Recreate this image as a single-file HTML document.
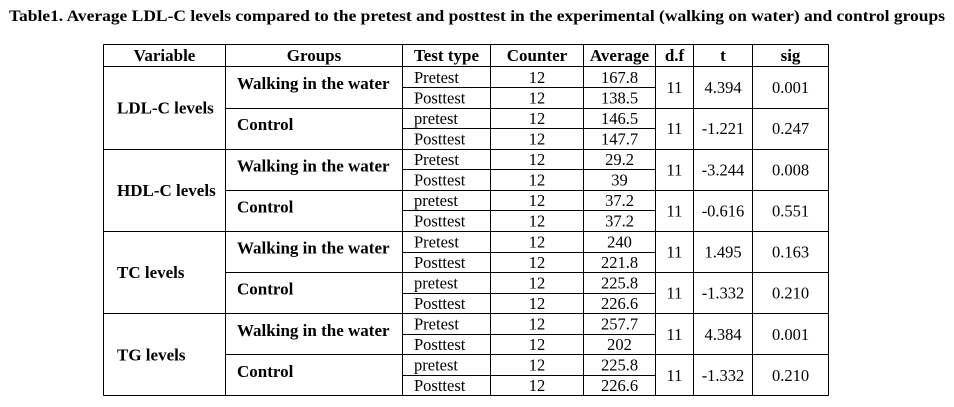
<!DOCTYPE html>
<html><head><style>html,body{margin:0;padding:0;background:#fff;width:954px;height:407px;overflow:hidden}</style></head>
<body>
<svg width="954" height="407" xmlns="http://www.w3.org/2000/svg" font-family="Liberation Serif, serif" fill="#000">
<text x="9" y="21" font-size="16" font-weight="bold" textLength="936" lengthAdjust="spacingAndGlyphs">Table1. Average LDL-C levels compared to the pretest and posttest in the experimental (walking on water) and control groups</text>
<g stroke="#000" stroke-width="1" id="lines"></g>
<g id="txt"></g>
</svg>
<script>
(function(){
const ns="http://www.w3.org/2000/svg";
const L=document.getElementById('lines'),T=document.getElementById('txt');
function ln(x1,y1,x2,y2){const e=document.createElementNS(ns,'line');e.setAttribute('x1',x1);e.setAttribute('y1',y1);e.setAttribute('x2',x2);e.setAttribute('y2',y2);L.appendChild(e);}
function tx(x,y,s,o){const e=document.createElementNS(ns,'text');e.setAttribute('x',x);e.setAttribute('y',y);e.setAttribute('font-size',o.fs||16.5);if(o.b)e.setAttribute('font-weight','bold');if(o.c)e.setAttribute('text-anchor','middle');e.textContent=s;T.appendChild(e);}
const X=[103.5,225.5,402.5,490.5,583.5,655.5,693.5,752.5,828.5];
const yTop=44.5,h0=66.5,rh=20.56,bot=395.5;
const R=i=>Math.round(h0+i*rh)+0.5;
X.forEach(x=>ln(x,yTop,x,bot));
ln(X[0],yTop,X[8],yTop);ln(X[0],h0,X[8],h0);
for(let i=1;i<=16;i++){const y=i==16?bot:R(i);
 if(i%4==0)ln(X[0],y,X[8],y);else if(i%2==0)ln(X[1],y,X[8],y);else ln(X[2],y,X[5],y);}
const hd=["Variable","Groups","Test type","Counter","Average","d.f","t","sig"];
hd.forEach((s,k)=>tx((X[k]+X[k+1])/2,61,s,{b:1,fs:17,c:1}));
const vars=["LDL-C levels","HDL-C levels","TC levels","TG levels"];
const data=[
[["167.8","138.5","4.394","0.001"],["146.5","147.7","-1.221","0.247"]],
[["29.2","39","-3.244","0.008"],["37.2","37.2","-0.616","0.551"]],
[["240","221.8","1.495","0.163"],["225.8","226.6","-1.332","0.210"]],
[["257.7","202","4.384","0.001"],["225.8","226.6","-1.332","0.210"]]];
vars.forEach((v,a)=>{
 tx(117,h0+(a*4+2)*rh+6,v,{b:1,fs:17});
 data[a].forEach((d,g)=>{
  const r=a*4+g*2;
  tx(237,h0+(r+1)*rh+2,g==0?"Walking in the water":"Control",{b:1,fs:17});
  const tt=g==0?["Pretest","Posttest"]:["pretest","Posttest"];
  for(let j=0;j<2;j++){const y=h0+(r+j+0.5)*rh+6;
   tx(414,y,tt[j],{});tx((X[3]+X[4])/2,y,"12",{c:1});tx((X[4]+X[5])/2,y,d[j],{c:1});}
  const y2=h0+(r+1)*rh+6;
  tx((X[5]+X[6])/2,y2,"11",{c:1});tx((X[6]+X[7])/2,y2,d[2],{c:1});tx((X[7]+X[8])/2,y2,d[3],{c:1});
 });
});
})();
</script>
</body></html>
